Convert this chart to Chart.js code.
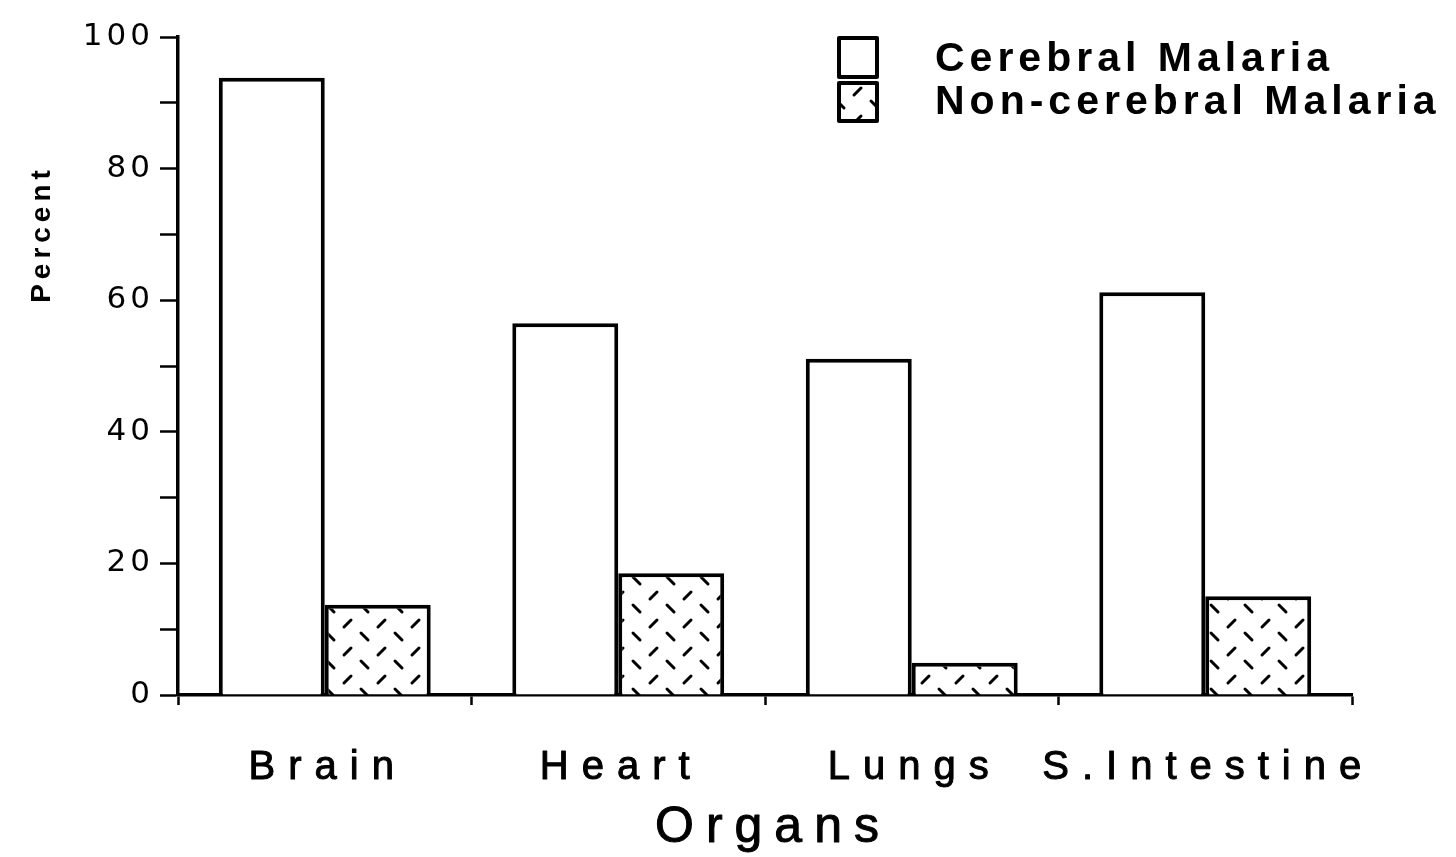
<!DOCTYPE html>
<html lang="en">
<head>
    <meta charset="UTF-8">
    <title>Organs - Cerebral vs Non-cerebral Malaria</title>
    <script src="https://cdn.jsdelivr.net/npm/chart.js"></script>
    <style>
        body { margin: 0; background: #fff; }
        #wrap { width: 1456px; height: 857px; }
    </style>
</head>
<body>
    <div id="wrap"><canvas id="organChart"></canvas></div>

    <script>
        // values
        const organs = ['Brain', 'Heart', 'Lungs', 'S.Intestine'];
        const cerebral = [93.8, 56.5, 51.1, 61.2];
        const nonCerebral = [13.7, 18.5, 4.9, 15.0];
        const seriesNames = ['Cerebral Malaria', 'Non-cerebral Malaria'];
        const yTicks = [0, 20, 40, 60, 80, 100];
        const xTitle = 'Organs';
        const yTitle = 'Percent';

        const FONT = '"Liberation Sans", Arial, sans-serif';
        const WIDE = '"DejaVu Sans", sans-serif';

        // dashed cross-hatch fill like the scanned original
        function makeHatch(ctx) {
            const c = document.createElement('canvas');
            c.width = 34; c.height = 28;
            const g = c.getContext('2d');
            g.fillStyle = '#fff';
            g.fillRect(0, 0, 34, 28);
            g.strokeStyle = '#000';
            g.lineWidth = 3;
            g.lineCap = 'round';
            g.beginPath();
            g.moveTo(4, 11); g.lineTo(11, 4);     // "/"
            g.moveTo(21, 17); g.lineTo(28, 24);   // "\"
            g.stroke();
            return ctx.createPattern(c, 'repeat');
        }

        const canvas = document.getElementById('organChart');
        const ctx = canvas.getContext('2d');
        const hatch = makeHatch(ctx);

        // filled + lightly stroked text, to get the heavier look of the scan
        function heavyText(c, txt, x, y, w) {
            c.fillText(txt, x, y);
            c.lineWidth = w;
            c.strokeText(txt, x, y);
        }

        // text that is drawn by hand: x labels, axis titles, legend
        const textPlugin = {
            id: 'textPlugin',
            beforeDraw(chart) {
                chart.ctx.letterSpacing = '4px';
            },
            afterDraw(chart) {
                const c = chart.ctx;
                const xs = chart.scales.x;
                c.save();
                c.fillStyle = '#000';
                c.strokeStyle = '#000';
                c.lineJoin = 'round';
                c.textBaseline = 'alphabetic';

                // category labels
                c.font = '40px ' + FONT;
                c.letterSpacing = '13px';
                c.textAlign = 'center';
                organs.forEach((name, i) => {
                    heavyText(c, name, xs.getPixelForValue(i) + 3, 779, 1.0);
                });

                // x title
                c.font = '50px ' + FONT;
                c.letterSpacing = '12px';
                heavyText(c, xTitle, (chart.chartArea.left + chart.chartArea.right) / 2 + 8, 842, 1.0);

                // y title, rotated
                c.save();
                c.translate(50, 236);
                c.rotate(-Math.PI / 2);
                c.font = 'bold 28px ' + FONT;
                c.letterSpacing = '5px';
                c.fillText(yTitle, 2, 0);
                c.restore();

                // legend
                c.textAlign = 'left';
                c.font = 'bold 41px ' + FONT;
                c.letterSpacing = '5px';
                c.lineWidth = 4;
                c.fillStyle = '#fff';
                c.fillRect(839, 38, 38, 39);
                c.strokeRect(839, 38, 38, 39);
                c.fillStyle = hatch;
                c.fillRect(839, 83, 38, 38);
                c.strokeRect(839, 83, 38, 38);
                c.fillStyle = '#000';
                c.fillText(seriesNames[0], 935, 71);
                c.fillText(seriesNames[1], 935, 114);

                c.restore();
                chart.ctx.letterSpacing = '0px';
            }
        };

        new Chart(ctx, {
            type: 'bar',
            data: {
                labels: organs,
                datasets: [
                    {
                        label: seriesNames[0],
                        data: cerebral,
                        backgroundColor: '#fff',
                        borderColor: '#000',
                        borderWidth: 4,
                        borderSkipped: 'start'
                    },
                    {
                        label: seriesNames[1],
                        data: nonCerebral,
                        backgroundColor: hatch,
                        borderColor: '#000',
                        borderWidth: 4,
                        borderSkipped: 'start'
                    }
                ]
            },
            options: {
                responsive: true,
                maintainAspectRatio: false,
                animation: false,
                layout: { padding: { top: 37, right: 104, left: 0, bottom: 0 } },
                datasets: {
                    bar: { categoryPercentage: 0.722, barPercentage: 1.0 }
                },
                plugins: {
                    legend: { display: false },
                    tooltip: { enabled: false }
                },
                scales: {
                    x: {
                        offset: true,
                        border: { display: true, color: '#000', width: 3.5 },
                        grid: {
                            offset: true,
                            drawOnChartArea: false,
                            drawTicks: true,
                            tickLength: 10,
                            tickWidth: 2.5,
                            tickColor: '#000'
                        },
                        ticks: { display: false },
                        afterFit(scale) { scale.height = 162; }
                    },
                    y: {
                        min: 0,
                        max: 100,
                        border: { display: true, color: '#000', width: 3.5 },
                        grid: {
                            drawOnChartArea: false,
                            tickLength: 18,
                            tickWidth: 2.5,
                            tickColor: '#000'
                        },
                        ticks: {
                            stepSize: 10,
                            padding: 6,
                            color: '#000',
                            font: { family: WIDE, size: 31 },
                            callback: v => yTicks.includes(v) ? String(v) : ''
                        },
                        afterFit(scale) { scale.width = 178; }
                    }
                }
            },
            plugins: [textPlugin]
        });
    </script>
</body>
</html>
